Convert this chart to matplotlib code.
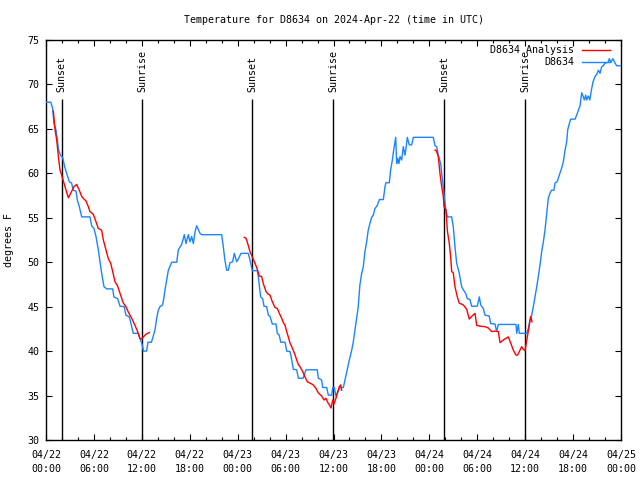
import numpy as np
import matplotlib
matplotlib.use("Agg")
import matplotlib.pyplot as plt
from matplotlib.ticker import MultipleLocator

# ---------------- data (hours since 2024-04-22 00:00 UTC) ----------------
obs_hours = [0.0, 0.6, 0.83, 1.0, 1.25, 1.42, 1.58, 1.84, 2.08, 2.38, 2.59, 2.92, 3.2, 3.42, 3.76,
             3.92, 4.17, 4.47, 5.5, 5.72, 6.0, 6.26, 6.55, 6.76, 6.97, 7.26, 7.6, 8.35, 8.5, 8.97,
             9.27, 9.8, 10.0, 10.43, 10.64, 10.93, 11.56, 11.77, 11.98, 12.1, 12.2, 12.6, 12.77, 13.2,
             13.4, 13.65, 13.86, 14.06, 14.27, 14.6, 14.78, 14.9, 15.32, 15.74, 16.37, 16.57, 16.99,
             17.32, 17.53, 17.82, 18.03, 18.24, 18.45, 18.66, 18.87, 19.28, 19.5, 22.0, 22.2, 22.4,
             22.63, 22.83, 23.04, 23.37, 23.58, 23.88, 24.1, 24.42, 25.33, 25.54, 25.83, 26.46, 26.59,
             26.71, 26.88, 27.13, 27.3, 27.63, 27.84, 28.05, 28.34, 28.8, 28.97, 29.2, 29.4, 29.93,
             30.14, 30.56, 30.77, 30.97, 31.39, 31.6, 32.2, 32.56, 33.97, 34.1, 34.52, 34.65, 35.15,
             35.35, 35.77, 35.9, 36.1, 36.31, 36.6, 36.8, 37.23, 37.44, 37.73, 37.98, 38.28, 38.48,
             38.69, 38.9, 39.1, 39.3, 39.5, 39.73, 39.94, 40.15, 40.35, 40.57, 40.78, 40.98, 41.2,
             41.49, 41.74, 42.24, 42.45, 42.57, 42.99, 43.16, 43.37, 43.5, 43.7, 43.79, 43.91, 44.04,
             44.2, 44.33, 44.54, 44.74, 44.95, 45.08, 45.24, 45.49, 45.79, 46.0, 48.5, 48.71, 48.92,
             49.12, 49.42, 49.55, 49.75, 49.87, 50.09, 50.25, 50.8, 51.0, 51.21, 51.42, 51.75, 52.05,
             52.25, 52.55, 52.75, 53.09, 53.3, 54.0, 54.26, 54.43, 54.76, 54.97, 55.5, 55.68, 56.22,
             56.43, 56.64, 58.85, 58.94, 59.14, 59.27, 60.19, 60.4, 60.6, 60.82, 61.02, 61.23, 61.45,
             61.65, 61.86, 62.07, 62.28, 62.48, 62.7, 62.9, 63.1, 63.3, 63.6, 63.74, 64.0, 64.27,
             64.57, 64.78, 64.99, 65.2, 65.33, 65.53, 65.7, 66.25, 66.45, 66.66, 66.87, 67.08, 67.28,
             67.4, 67.58, 67.7, 67.9, 68.1, 68.3, 68.5, 68.75, 68.95, 69.16, 69.37, 69.58, 69.78,
             70.0, 70.4, 70.53, 70.75, 70.97, 71.2, 71.46, 72.0]
obs_temps = [68.0, 68.0, 67.3, 65.6, 64.9, 63.75, 62.6, 62.0, 61.8, 60.6, 60.0, 59.05, 58.9, 58.1, 58.0,
             57.0, 56.25, 55.1, 55.1, 54.1, 53.8, 52.9, 51.4, 50.05, 48.75, 47.25, 47.0, 47.0, 46.1, 45.9,
             45.05, 45.0, 44.05, 43.85, 43.1, 42.0, 42.0, 41.4, 40.9, 40.5, 40.0, 40.0, 41.0, 41.0,
             41.6, 42.4, 43.7, 44.6, 45.0, 45.2, 46.1, 46.9, 49.1, 50.0, 50.0, 51.4, 52.0,
             53.1, 52.1, 53.1, 52.3, 52.9, 52.1, 53.4, 54.1, 53.25, 53.1, 53.1, 51.75, 50.25,
             49.1, 49.1, 49.95, 50.05, 51.0, 50.05, 50.4, 51.0, 51.0, 50.25, 49.05, 49.05, 48.4,
             47.4, 46.1, 45.9, 45.05, 45.0, 44.05, 43.9, 43.05, 43.05, 42.0, 41.8, 41.0, 41.0,
             40.0, 39.95, 39.0, 37.95, 37.9, 36.95, 36.95, 37.9, 37.9, 36.95, 36.75, 35.9, 35.9,
             35.05, 35.05, 35.9, 35.9, 34.95, 35.55, 35.9, 35.9, 36.75, 37.95, 39.0, 40.1, 41.05,
             42.4, 43.7, 45.0, 47.4, 48.6, 49.5, 51.2, 52.3, 53.6, 54.4, 55.05, 55.3, 56.05,
             56.4, 57.05, 57.05, 58.5, 58.95, 58.95, 60.4, 61.5, 62.4, 63.55, 64.05, 61.1, 61.7,
             61.1, 61.9, 61.5, 63.0, 62.05, 62.8, 64.05, 63.2, 63.2, 64.05, 64.05, 63.1, 63.0,
             62.05, 61.1, 60.0, 58.5, 57.4, 55.7, 55.1, 55.1, 54.0, 51.75, 49.9, 48.75, 47.25,
             46.9, 46.5, 45.9, 45.8, 45.05, 45.05, 46.1, 45.2, 44.8, 44.05, 43.95, 43.1, 43.05,
             42.2, 43.0, 43.0, 42.0, 43.0, 42.0, 42.0, 42.55, 43.5, 44.05, 45.0, 46.1, 47.25,
             48.4, 49.7, 51.2, 52.3, 53.6, 55.5, 57.2, 57.75, 58.1, 58.1, 58.9, 59.05, 59.8,
             60.6, 61.3, 62.6, 63.55, 64.9, 65.6, 66.1, 66.1, 66.55, 67.1, 67.6, 69.07, 68.6,
             68.25, 68.8, 68.25, 68.7, 68.25, 69.4, 70.3, 70.9, 71.1, 71.6, 71.25, 72.0, 72.1,
             72.4, 72.5, 72.9, 72.5, 72.9, 72.5, 72.1, 72.1]

ana1_hours = [0.92, 1.13, 1.34, 1.55, 1.75, 1.96, 2.38, 2.8, 3.2, 3.5, 3.84, 4.17, 4.47, 4.76, 5.0,
              5.3, 5.5, 5.92, 6.26, 6.55, 6.97, 7.18, 7.51, 7.8, 8.1, 8.35, 8.64, 8.93, 9.27, 9.68,
              10.02, 10.3, 10.73, 11.14, 11.43, 11.77, 11.98, 12.19, 12.52, 12.94]
ana1_temps = [67.0, 64.9, 63.75, 61.9, 60.4, 59.8, 58.5, 57.25, 57.95, 58.5, 58.75, 58.1, 57.4, 57.1, 56.9,
              56.25, 55.7, 55.4, 54.55, 53.8, 53.6, 52.5, 51.4, 50.4, 49.9, 48.95, 47.8, 47.4, 46.5, 45.4,
              45.0, 44.4, 43.7, 42.9, 42.3, 41.4, 41.4, 41.6, 41.9, 42.1]
ana2_hours = [24.83, 25.04, 25.26, 25.54, 25.83, 26.17, 26.46, 26.71, 27.0, 27.21, 27.55, 27.84, 28.05,
              28.26, 28.47, 28.68, 28.97, 29.22, 29.51, 29.72, 29.93, 30.14, 30.34, 30.56, 30.77, 30.97,
              31.18, 31.39, 31.6, 31.8, 32.14, 32.43, 32.72, 33.06, 33.47, 33.81, 34.1, 34.52, 34.81,
              35.06, 35.23, 35.48, 35.69, 35.9, 36.06, 36.31, 36.48, 36.73, 36.9, 37.02]
ana2_temps = [52.8, 52.7, 52.1, 51.2, 50.6, 49.9, 49.2, 48.45, 48.4, 47.6, 46.7, 46.4, 46.3,
              45.75, 45.3, 44.9, 44.8, 44.25, 43.7, 43.2, 42.9, 42.2, 41.6, 40.9, 40.5, 40.05,
              39.6, 39.0, 38.5, 38.25, 37.7, 37.1, 36.55, 36.4, 36.2, 35.8, 35.3, 34.95, 34.5,
              34.7, 34.3, 33.95, 33.6, 34.5, 34.05, 34.7, 35.25, 36.0, 36.2, 35.6]
ana3_hours = [48.71, 48.85, 49.12, 49.33, 49.55, 49.75, 49.84, 50.09, 50.25, 50.5, 50.67, 50.8, 51.0,
              51.21, 51.5, 51.75, 52.25, 52.68, 53.0, 53.3, 53.72, 53.93, 54.35, 54.97, 55.39, 55.8,
              56.22, 56.64, 56.85, 57.26, 57.89, 58.19, 58.52, 58.85, 59.05, 59.35, 59.56, 59.77,
              59.98, 60.1, 60.27, 60.52, 60.69, 60.86]
ana3_temps = [62.6, 62.6, 61.9, 60.0, 58.5, 57.4, 56.25, 55.9, 53.6, 52.1, 50.6, 48.95, 48.8,
              47.25, 46.1, 45.4, 45.2, 44.7, 43.6, 43.9, 44.25, 42.9, 42.8, 42.75, 42.6, 42.2,
              42.25, 42.2, 40.95, 41.25, 41.6, 40.9, 40.1, 39.55, 39.55, 40.1, 40.5, 40.2,
              40.05, 40.7, 41.6, 42.9, 43.9, 43.3]

sunset_hours = [1.97, 25.83, 49.87]
sunrise_hours = [12.05, 35.97, 60.02]

tick_hours = [0, 6, 12, 18, 24, 30, 36, 42, 48, 54, 60, 66, 72]
tick_labels = ["04/22\n00:00", "04/22\n06:00", "04/22\n12:00", "04/22\n18:00",
               "04/23\n00:00", "04/23\n06:00", "04/23\n12:00", "04/23\n18:00",
               "04/24\n00:00", "04/24\n06:00", "04/24\n12:00", "04/24\n18:00",
               "04/25\n00:00"]

title = "Temperature for D8634 on 2024-Apr-22 (time in UTC)"
ylabel = "degrees F"
legend_labels = ["D8634 Analysis", "D8634"]

# ---------------- figure ----------------
RED = "#ff0000"
BLUE = "#1a85ff"
FONT = "DejaVu Sans Mono"
FS = 7.2

plt.rcParams["font.family"] = FONT
plt.rcParams["font.size"] = FS

fig = plt.figure(figsize=(6.4, 4.8), dpi=100)
ax = fig.add_axes([46 / 640, 1 - 440 / 480, 575 / 640, 400 / 480])

lw = 1.0
ax.plot(obs_hours, obs_temps, color=BLUE, lw=lw, zorder=3)
for h, t in ((ana1_hours, ana1_temps), (ana2_hours, ana2_temps), (ana3_hours, ana3_temps)):
    ax.plot(h, t, color=RED, lw=lw, zorder=4)

ax.set_xlim(0, 72)
ax.set_ylim(30, 75)

line_top = 68.4
label_y = 69.15
for h in sunset_hours:
    ax.vlines(h, 30, line_top, color="black", lw=1.0, zorder=2)
    ax.text(h, label_y, "Sunset", rotation=90, ha="center", va="bottom", fontsize=FS)
for h in sunrise_hours:
    ax.vlines(h, 30, line_top, color="black", lw=1.0, zorder=2)
    ax.text(h, label_y, "Sunrise", rotation=90, ha="center", va="bottom", fontsize=FS)

ax.set_xticks(tick_hours)
ax.set_xticklabels(tick_labels, linespacing=1.55)
ax.xaxis.set_minor_locator(MultipleLocator(2))
ax.yaxis.set_major_locator(MultipleLocator(5))
ax.tick_params(which="both", direction="in", top=True, right=True, width=0.8, colors="black")
ax.tick_params(which="major", length=4.5)
ax.tick_params(which="minor", length=2.5)
ax.tick_params(axis="x", which="major", pad=7)
ax.tick_params(axis="y", which="major", pad=4.5)
for s in ax.spines.values():
    s.set_linewidth(1.0)
    s.set_color("black")

ax.set_ylabel(ylabel, fontsize=FS)
ax.yaxis.set_label_coords(-0.056, 0.5)

ax.text(0.5, 1.05, title, transform=ax.transAxes, ha="center", va="center", fontsize=FS)

# legend (gnuplot style: right-aligned text, sample to the right)
for lab, col, yy in ((legend_labels[0], RED, 0.975), (legend_labels[1], BLUE, 0.944)):
    ax.text(0.919, yy, lab, transform=ax.transAxes, ha="right", va="center", fontsize=FS)
    ax.plot([0.932, 0.980], [yy, yy], transform=ax.transAxes, color=col, lw=lw, zorder=5)

fig.savefig("out.png", dpi=100)
